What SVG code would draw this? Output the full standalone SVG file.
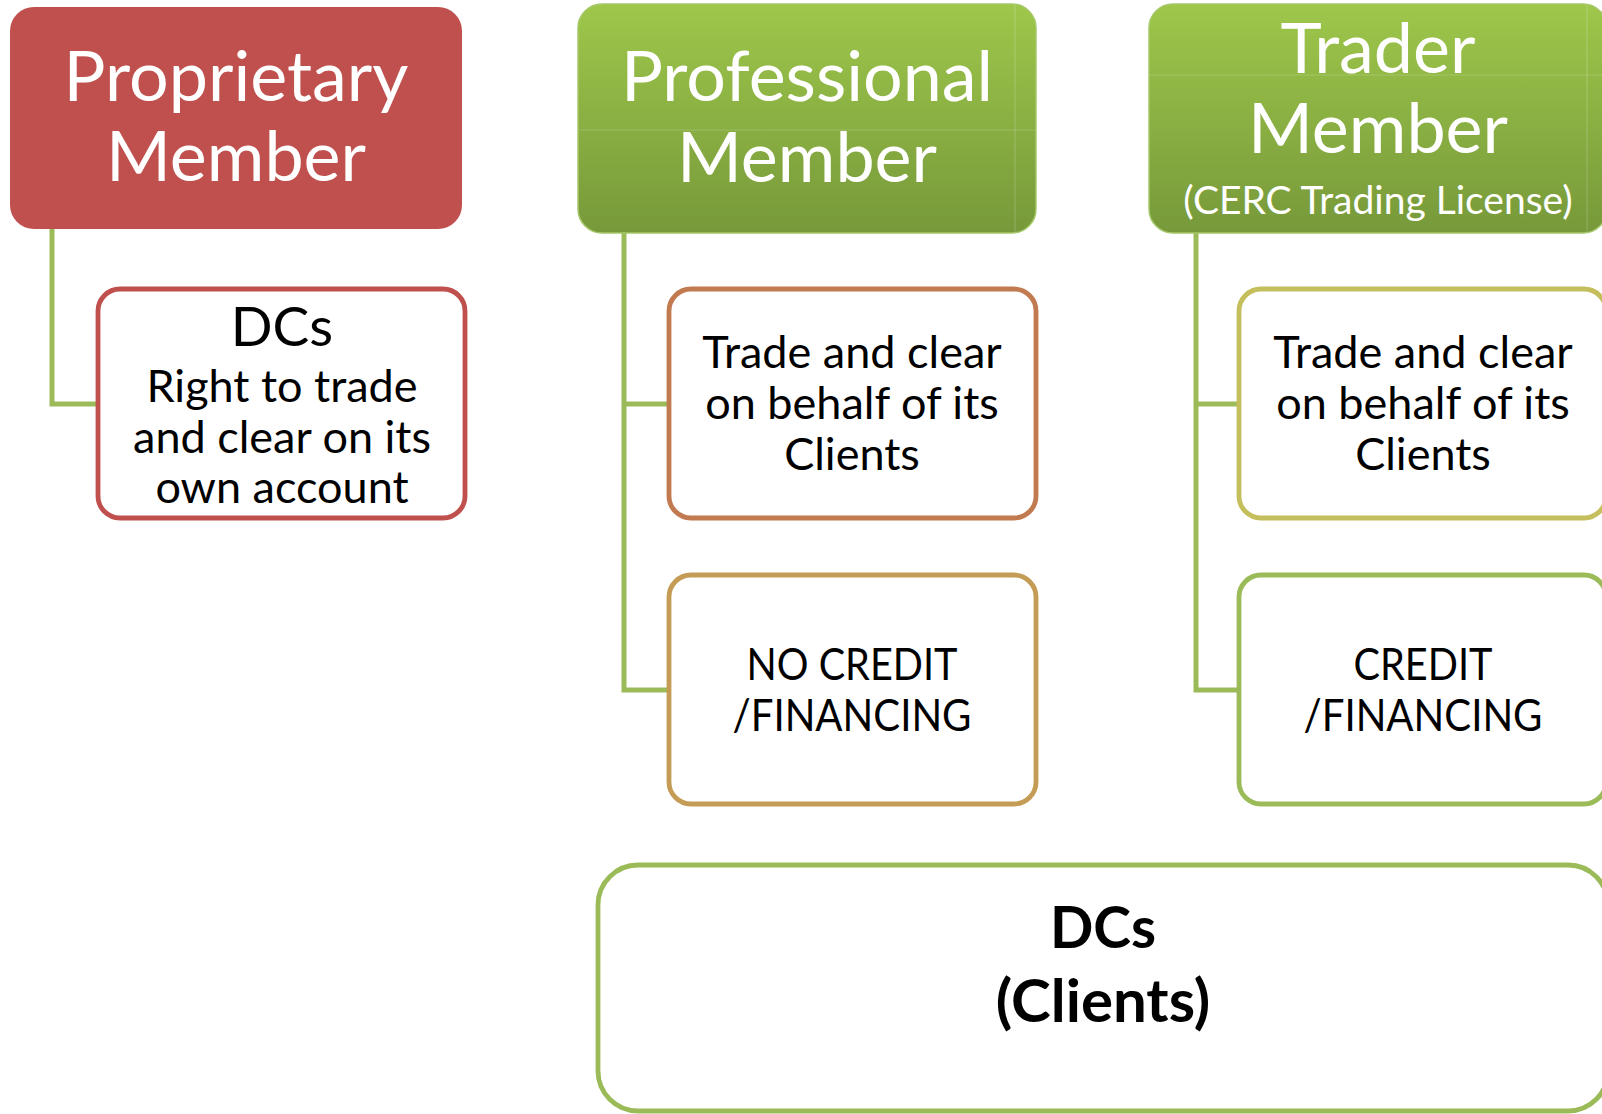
<svg xmlns="http://www.w3.org/2000/svg" width="1602" height="1114" viewBox="0 0 1602 1114">
<defs>
<linearGradient id="gGreen" x1="0" y1="0" x2="0" y2="1">
<stop offset="0" stop-color="#9EC74B"/>
<stop offset="1" stop-color="#77993A"/>
</linearGradient>
<style>
.hdr-text{font-family:Lato,"Liberation Sans",sans-serif;fill:#FFFFFF;text-anchor:middle;font-size:70px}
.hdr-sub{font-size:39px}
.txt{font-family:Lato,"Liberation Sans",sans-serif;fill:#000000;text-anchor:middle;font-size:45px}
.big{font-size:55px}
.bold{font-size:57px;font-weight:bold}
.bold2{font-size:60px;font-weight:bold}
.child{fill:#FFFFFF;stroke-width:4.8}
.conn{fill:none;stroke:#9BBB59;stroke-width:5}
.seam{stroke:#FFFFFF;stroke-opacity:0.18;stroke-width:1.2}
</style>
</defs>
<rect width="1602" height="1114" fill="#FFFFFF"/>

<g id="connectors">
<path class="conn" d="M52,229 V404 H98"/>
<path class="conn" d="M624,233 V690 H669"/>
<path class="conn" d="M624,404 H669"/>
<path class="conn" d="M1196,233 V690 H1239"/>
<path class="conn" d="M1196,404 H1239"/>
</g>

<g id="proprietary-member">
<rect x="10" y="7" width="452" height="222" rx="24" fill="#C0504D"/>
<text class="hdr-text" x="236" y="101">Proprietary</text>
<text class="hdr-text" x="236" y="181">Member</text>
</g>

<g id="professional-member">
<rect x="578" y="4" width="458" height="229" rx="24" fill="url(#gGreen)" stroke="#A5C86A" stroke-width="1.5"/>
<line class="seam" x1="579" y1="130" x2="1035" y2="130"/>
<line class="seam" x1="1015" y1="5" x2="1015" y2="232"/>
<text class="hdr-text" x="807" y="101">Professional</text>
<text class="hdr-text" x="807" y="182">Member</text>
</g>

<g id="trader-member">
<rect x="1149" y="4" width="458" height="229" rx="24" fill="url(#gGreen)" stroke="#A5C86A" stroke-width="1.5"/>
<line class="seam" x1="1150" y1="75" x2="1606" y2="75"/>
<line class="seam" x1="1587" y1="5" x2="1587" y2="232"/>
<text class="hdr-text" x="1378" y="73">Trader</text>
<text class="hdr-text" x="1378" y="153">Member</text>
<text class="hdr-text hdr-sub" x="1378" y="214">(CERC Trading License)</text>
</g>

<g id="dcs-own-account">
<rect class="child" x="98" y="289" width="367" height="229" rx="22" stroke="#C0504D"/>
<text class="txt big" x="282" y="346">DCs</text>
<text class="txt" x="282" y="402">Right to trade</text>
<text class="txt" x="282" y="453">and clear on its</text>
<text class="txt" x="282" y="503">own account</text>
</g>

<g id="professional-trade-clear">
<rect class="child" x="669" y="289" width="367" height="229" rx="22" stroke="#C27A50"/>
<text class="txt" x="852" y="368">Trade and clear</text>
<text class="txt" x="852" y="419">on behalf of its</text>
<text class="txt" x="852" y="470">Clients</text>
</g>

<g id="no-credit-financing">
<rect class="child" x="669" y="575" width="367" height="229" rx="22" stroke="#C49C55"/>
<text class="txt" x="852" y="680" textLength="211" lengthAdjust="spacingAndGlyphs">NO CREDIT</text>
<text class="txt" x="852" y="731" textLength="239" lengthAdjust="spacingAndGlyphs">/FINANCING</text>
</g>

<g id="trader-trade-clear">
<rect class="child" x="1239" y="289" width="367" height="229" rx="22" stroke="#C4BE5C"/>
<text class="txt" x="1423" y="368">Trade and clear</text>
<text class="txt" x="1423" y="419">on behalf of its</text>
<text class="txt" x="1423" y="470">Clients</text>
</g>

<g id="credit-financing">
<rect class="child" x="1239" y="575" width="367" height="229" rx="22" stroke="#9BBB59"/>
<text class="txt" x="1423" y="680" textLength="139" lengthAdjust="spacingAndGlyphs">CREDIT</text>
<text class="txt" x="1423" y="731" textLength="239" lengthAdjust="spacingAndGlyphs">/FINANCING</text>
</g>

<g id="dcs-clients">
<rect class="child" x="598" y="865" width="1010" height="246" rx="40" stroke="#9BBB59"/>
<text class="txt bold" x="1103" y="948">DCs</text>
<text class="txt bold2" x="1103" y="1022">(Clients)</text>
</g>
</svg>
